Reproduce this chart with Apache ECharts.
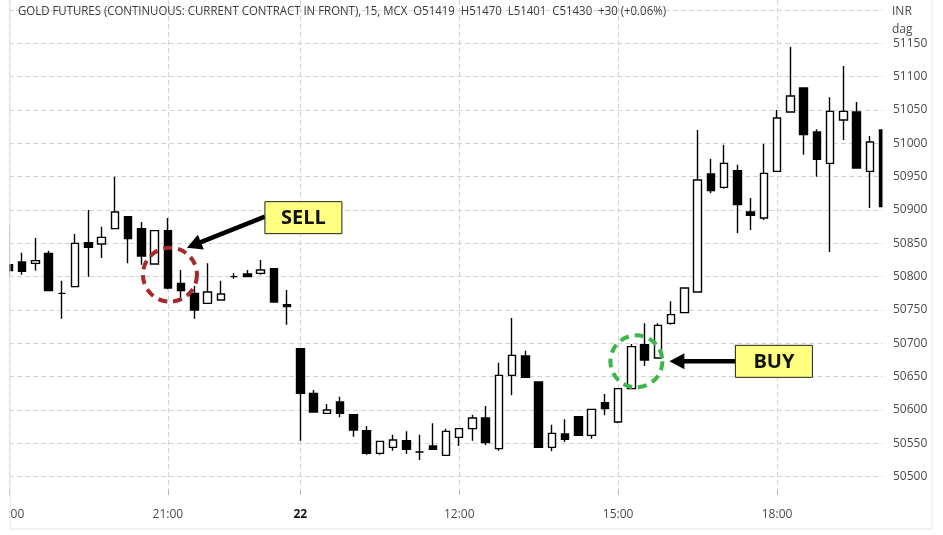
<!DOCTYPE html>
<html><head><meta charset="utf-8">
<script src="https://cdn.jsdelivr.net/npm/echarts@6/dist/echarts.min.js"></script>
<style>html,body{margin:0;padding:0;background:#fff;}#c{width:943px;height:535px;}</style>
</head><body><div id="c"></div>
<script>
const titleText = 'GOLD FUTURES (CONTINUOUS: CURRENT CONTRACT IN FRONT), 15, MCX  O51419  H51470  L51401  C51430  +30 (+0.06%)';
const unitLabels = ['INR', 'dag'];

const categories = [
  '21 18:00','21 18:15','21 18:30','21 18:45','21 19:00','21 19:15','21 19:30','21 19:45',
  '21 20:00','21 20:15','21 20:30','21 20:45','21 21:00','21 21:15','21 21:30','21 21:45',
  '21 22:00','21 22:15','21 22:30','21 22:45','21 23:00','21 23:15',
  '22 09:00','22 09:15','22 09:30','22 09:45','22 10:00','22 10:15','22 10:30','22 10:45',
  '22 11:00','22 11:15','22 11:30','22 11:45','22 12:00','22 12:15','22 12:30','22 12:45',
  '22 13:00','22 13:15','22 13:30','22 13:45','22 14:00','22 14:15','22 14:30','22 14:45',
  '22 15:00','22 15:15','22 15:30','22 15:45','22 16:00','22 16:15','22 16:30','22 16:45',
  '22 17:00','22 17:15','22 17:30','22 17:45','22 18:00','22 18:15','22 18:30','22 18:45',
  '22 19:00','22 19:15','22 19:30','22 19:45','22 20:00'
];

const opens  = [50818,50822,50820,50835,50775,50785,50851,50849,50872,50890,50872,50819,50869,50790,50775,50760,50765,50800,50804,50805,50812,50758,
                50692,50625,50595,50612,50593,50569,50535,50544,50554,50537,50546,50532,50559,50572,50588,50542,50652,50681,50642,50544,50564,50590,50562,50611,
                50582,50632,50698,50678,50730,50746,50777,50954,50934,50959,50897,50888,50958,51047,51083,51017,50970,51035,51047,50958,51020];
const highs  = [50878,50836,50858,50839,50794,50864,50900,50875,50950,50890,50882,50869,50888,50810,50786,50820,50794,50805,50810,50825,50812,50780,
                50692,50630,50609,50620,50594,50576,50554,50563,50568,50563,50580,50572,50572,50593,50606,50671,50738,50689,50642,50578,50586,50590,50601,50624,
                50632,50699,50730,50730,50763,50783,51020,50977,50998,50968,50918,50999,51050,51145,51083,51021,51069,51116,51062,51011,51020];
const lows   = [50798,50803,50809,50778,50737,50785,50800,50828,50872,50820,50818,50819,50781,50766,50737,50760,50765,50797,50800,50803,50762,50728,
                50554,50597,50594,50589,50560,50533,50533,50539,50534,50525,50541,50532,50546,50554,50547,50539,50622,50649,50544,50538,50552,50562,50557,50592,
                50580,50632,50666,50678,50728,50746,50777,50925,50932,50865,50870,50885,50958,51047,50983,50950,50837,51005,50963,50903,50905];
const closes = [50809,50808,50824,50779,50775,50850,50844,50859,50897,50857,50831,50869,50783,50779,50750,50777,50774,50800,50800,50810,50762,50755,
                50625,50597,50600,50595,50570,50535,50553,50555,50541,50537,50541,50568,50572,50588,50551,50652,50682,50649,50544,50565,50556,50562,50601,50602,
                50632,50695,50675,50727,50743,50783,50945,50929,50970,50908,50892,50955,51038,51071,51013,50976,51048,51048,50963,51002,50905];

const xTickCats  = ['21 18:00','21 21:00','22 09:00','22 12:00','22 15:00','22 18:00'];
const xTickTexts = ['18:00','21:00','22','12:00','15:00','18:00'];
const yTickLabels = [50500,50550,50600,50650,50700,50750,50800,50850,50900,50950,51000,51050,51100,51150];

const sellAt = [12, 50803];
const buyAt  = [47, 50670];

const FONT = "'Open Sans', 'Noto Sans', sans-serif";
const gridColor = '#d4d4d4';
const labelColor = '#4a4a4a';

const candleData = categories.map((c, i) => [opens[i], closes[i], lows[i], highs[i]]);
const isTick = (i) => xTickCats.indexOf(categories[i]) >= 0;

const chart = echarts.init(document.getElementById('c'), null, {renderer: 'canvas'});
chart.setOption({
  animation: false,
  backgroundColor: '#ffffff',
  grid: {left: 9, right: 60, top: 0, bottom: 45, containLabel: false, outerBoundsMode: 'none'},
  xAxis: {
    type: 'category', data: categories, boundaryGap: false,
    axisLine: {show: false},
    axisTick: {show: true, interval: (i) => isTick(i), length: 5, lineStyle: {color: '#b8b8b8'}},
    axisLabel: {
      interval: (i) => isTick(i), margin: 19, color: labelColor, fontSize: 12, fontFamily: FONT,
      hideOverlap: false,
      formatter: (v) => {
        const k = xTickCats.indexOf(v);
        const t = k >= 0 ? xTickTexts[k] : '';
        return t === '22' ? '{b|22}' : t;
      },
      rich: {b: {fontWeight: 'bold', color: '#111', fontSize: 12, fontFamily: FONT}}
    },
    splitLine: {show: true, interval: (i) => isTick(i), lineStyle: {color: gridColor, type: [5, 3], width: 1}}
  },
  yAxis: {
    type: 'value', position: 'right', min: 50480, max: 51215, splitNumber: 15, scale: true,
    axisLine: {show: false}, axisTick: {show: false},
    axisLabel: {
      margin: 10, color: labelColor, fontSize: 12, fontFamily: FONT,
      formatter: (v) => yTickLabels.indexOf(v) >= 0 ? String(v) : ''
    },
    splitLine: {show: true, showMinLine: false, showMaxLine: false, lineStyle: {color: gridColor, type: [5, 3], width: 1}}
  },
  series: [{
    type: 'candlestick', data: candleData, barWidth: 8, clip: true,
    itemStyle: {color: '#ffffff', color0: '#000000', borderColor: '#000000', borderColor0: '#000000', borderWidth: 1.4},
    emphasis: {disabled: true}
  }]
});

// title width fitting
const mctx = document.createElement('canvas').getContext('2d');
mctx.font = "12px 'Open Sans'";
const tw = mctx.measureText(titleText).width;
const titleScale = 648 / tw;

function arrow(tail, tip, headLen, headHalf, width) {
  const dx = tip[0] - tail[0], dy = tip[1] - tail[1];
  const len = Math.sqrt(dx*dx + dy*dy);
  const ux = dx/len, uy = dy/len;
  const base = [tip[0] - ux*headLen, tip[1] - uy*headLen];
  const nx = -uy, ny = ux;
  return [
    {type: 'polyline', z: 20, shape: {points: [tail, [base[0] + ux*2, base[1] + uy*2]]}, style: {stroke: '#000', lineWidth: width, fill: null}},
    {type: 'polygon', z: 20, shape: {points: [tip, [base[0] + nx*headHalf, base[1] + ny*headHalf], [base[0] - nx*headHalf, base[1] - ny*headHalf]]}, style: {fill: '#000'}}
  ];
}

function box(x, y, w, h, text) {
  return [
    {type: 'rect', z: 21, shape: {x: x, y: y, width: w, height: h}, style: {fill: '#FFFF80', stroke: '#222', lineWidth: 1}},
    {type: 'text', z: 22, x: x + w/2, y: y + h/2 + 1, style: {text: text, fontSize: 20, fontWeight: 'bold', fontFamily: FONT, fill: '#111', align: 'center', verticalAlign: 'middle'}}
  ];
}

const sp = chart.convertToPixel({gridIndex: 0}, sellAt);
const bp = chart.convertToPixel({gridIndex: 0}, buyAt);

const graphics = [
  // pane clipping masks (the plot pane cuts candles at its edges)
  {type: 'rect', z: 5, shape: {x: 0, y: 0, width: 9, height: 535}, style: {fill: '#fff'}},
  {type: 'rect', z: 5, shape: {x: 882.5, y: 0, width: 8, height: 492}, style: {fill: '#fff'}},
  {type: 'rect', z: 6, shape: {x: 10, y: -2, width: 922, height: 531}, style: {fill: null, stroke: '#e3e3e3', lineWidth: 1}},
  {type: 'text', z: 10, x: 18, y: 12, scaleX: titleScale, style: {text: titleText, fontSize: 12, fontFamily: "'Open Sans'", fill: '#3a3a3a', verticalAlign: 'middle'}},
  {type: 'text', z: 10, x: 892, y: 12, style: {text: unitLabels[0], fontSize: 12, fontFamily: FONT, fill: labelColor, verticalAlign: 'middle'}},
  {type: 'text', z: 10, x: 892, y: 30, style: {text: unitLabels[1], fontSize: 12, fontFamily: FONT, fill: labelColor, verticalAlign: 'middle'}},
  {type: 'circle', z: 19, shape: {cx: sp[0] + 2, cy: sp[1], r: 27}, style: {fill: null, stroke: '#A52A2E', lineWidth: 4, lineDash: [9, 6]}},
  {type: 'circle', z: 19, shape: {cx: bp[0] + 5, cy: bp[1] - 2, r: 26}, style: {fill: null, stroke: '#3DB54A', lineWidth: 4, lineDash: [9, 6]}}
]
.concat(arrow([sp[0] + 97, sp[1] - 58], [sp[0] + 19, sp[1] - 27], 15, 8, 4.5))
.concat(box(sp[0] + 97, sp[1] - 73, 77, 32, 'SELL'))
.concat(arrow([bp[0] + 104, bp[1] - 2], [bp[0] + 38, bp[1] - 2], 15, 8, 4.5))
.concat(box(bp[0] + 104, bp[1] - 18, 77, 32, 'BUY'));

chart.setOption({graphic: graphics});
</script>
</body></html>
